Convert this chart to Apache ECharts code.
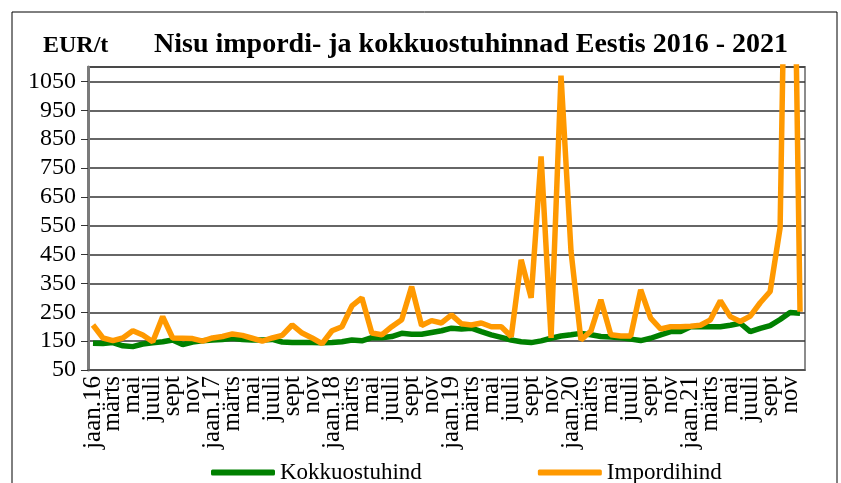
<!DOCTYPE html>
<html>
<head>
<meta charset="utf-8">
<script src="https://cdn.jsdelivr.net/npm/echarts@6/dist/echarts.min.js"></script>
<style>
    html, body {margin: 0; padding: 0; background: #fff;}
    #main {width: 841px; height: 483px;}
</style>
</head>
<body>
<div id="main"></div>
<script>
// kuud (jaan.16 - dets.21)
var years = ['16', '17', '18', '19', '20', '21'];
var monthNames = ['jaan', 'veebr', 'märts', 'apr', 'mai', 'juuni', 'juuli', 'aug', 'sept', 'okt', 'nov', 'dets'];
var months = [];
years.forEach(function (y) {
    monthNames.forEach(function (m, i) {
        months.push(i == 0 ? m + '.' + y : m);
    });
});

// Kokkuostuhind, EUR/t
var kokkuostuhind = [
    143, 142, 145, 134, 131, 140, 144, 148, 154, 138, 147, 151,
    154, 156, 160, 156, 154, 154, 156, 147, 145, 145, 145, 144,
    145, 148, 154, 151, 162, 162, 166, 177, 174, 174, 180, 186,
    195, 192, 195, 183, 172, 163, 154, 148, 145, 151, 160, 168,
    172, 177, 172, 166, 164, 162, 157, 152, 160, 172, 183, 183,
    200, 200, 200, 200, 205, 212, 183, 194, 204, 225, 249, 247
];

// Impordihind, EUR/t
var impordihind = [
    206, 161, 152, 161, 186, 171, 148, 235, 161, 160, 159, 150,
    161, 166, 175, 170, 160, 150, 161, 170, 206, 178, 161, 141,
    186, 200, 272, 300, 178, 172, 200, 224, 339, 204, 221, 213,
    241, 210, 206, 213, 200, 200, 166, 432, 300, 790, 161, 1070,
    463, 154, 185, 293, 172, 168, 168, 328, 230, 192, 200, 200,
    202, 205, 224, 290, 235, 218, 237, 283, 322, 543, 2600, 252
];

var serif = '"Liberation Serif", "Times New Roman", serif';

var myChart = echarts.init(document.getElementById('main'));
var option = {
    animation: false,
    color: ['#008000', '#ff9900'],
    title: [
        {
            text: 'Nisu impordi- ja kokkuostuhinnad Eestis 2016 - 2021',
            left: 149,
            top: 26,
            textStyle: {fontFamily: serif, fontSize: 28, fontWeight: 'bold', color: '#000'}
        },
        {
            text: 'EUR/t',
            left: 38,
            top: 29,
            textStyle: {fontFamily: serif, fontSize: 24, fontWeight: 'bold', color: '#000'}
        }
    ],
    // välimine raam
    graphic: [{
        type: 'rect',
        shape: {x: 12, y: 12, width: 825, height: 480},
        style: {fill: 'none', stroke: '#000', lineWidth: 1}
    }],
    legend: {
        left: 206,
        top: 456,
        itemGap: 116,
        itemWidth: 64,
        itemHeight: 6,
        icon: 'roundRect',
        textStyle: {fontFamily: serif, fontSize: 23, color: '#000'},
        data: ['Kokkuostuhind', 'Impordihind']
    },
    grid: {
        left: 88,
        right: 36,
        top: 67,
        bottom: 113,
        show: true,
        borderColor: '#8c8c8c',
        borderWidth: 2
    },
    xAxis: {
        type: 'category',
        data: months,
        boundaryGap: true,
        axisLine: {lineStyle: {color: '#555', width: 1.5}},
        axisTick: {interval: 0, length: 6, lineStyle: {color: '#333'}},
        axisLabel: {
            interval: 0,
            hideOverlap: false,
            rotate: 90,
            margin: 6,
            fontFamily: serif,
            fontSize: 25,
            color: '#000',
            // iga teine kuu
            formatter: function (value, index) {
                return index % 2 == 0 ? value : '';
            }
        }
    },
    yAxis: {
        type: 'value',
        min: 50,
        max: 1100,
        interval: 100,
        axisLine: {show: true, lineStyle: {color: '#7a7a7a', width: 3}},
        axisTick: {show: true, length: 7, lineStyle: {color: '#333'}},
        axisLabel: {
            showMaxLabel: false,
            margin: 12,
            fontFamily: serif,
            fontSize: 24,
            color: '#000',
            formatter: function (v) {
                return String(v);
            }
        },
        splitLine: {lineStyle: {color: '#333', width: 1.5}}
    },
    series: [
        {
            name: 'Kokkuostuhind',
            type: 'line',
            data: kokkuostuhind,
            showSymbol: false,
            clip: true,
            lineStyle: {width: 5.5, color: '#008000'}
        },
        {
            name: 'Impordihind',
            type: 'line',
            data: impordihind,
            showSymbol: false,
            clip: true,
            lineStyle: {width: 5.5, color: '#ff9900'}
        }
    ]
};
myChart.setOption(option);
</script>
</body>
</html>
